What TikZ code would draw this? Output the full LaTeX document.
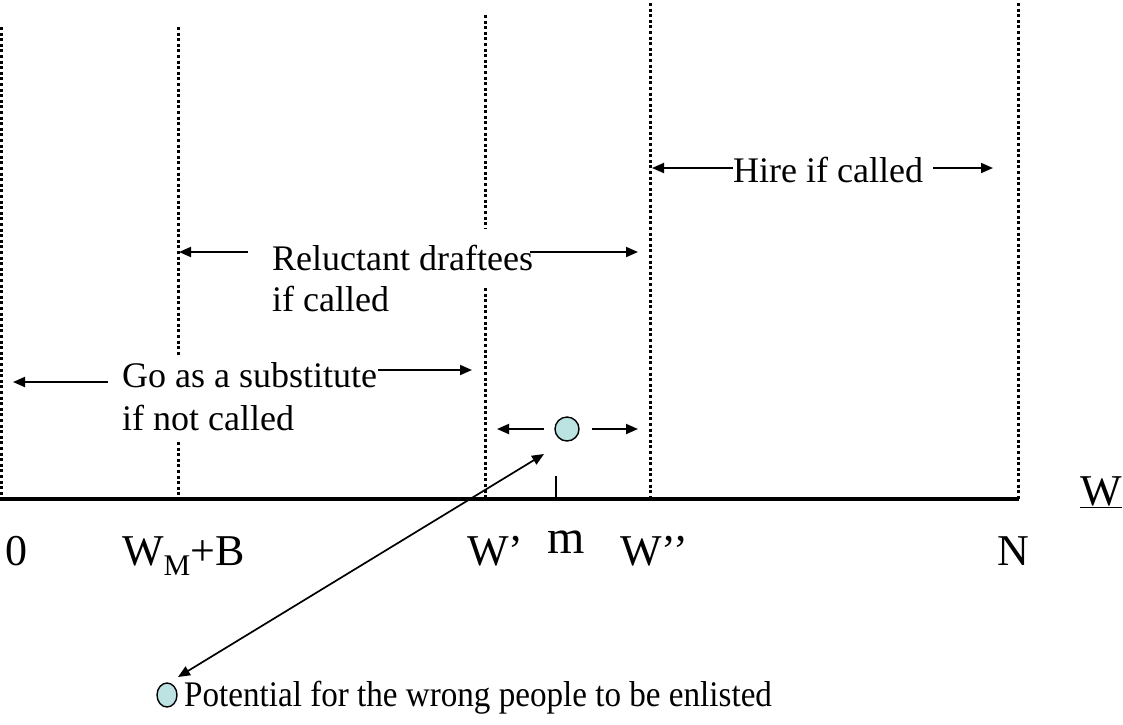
\documentclass[tikz,border=0pt]{standalone}
\usepackage{fontspec}
\setmainfont{Liberation Serif}
\usetikzlibrary{arrows.meta,shapes.geometric}
\definecolor{dotfill}{RGB}{188,226,226}
\begin{document}
\begin{tikzpicture}[x=1pt,y=-1pt,
  sepline/.style={line width=3pt, dash pattern=on 3pt off 2.6pt},
  axisline/.style={line width=4.6pt},
  arr/.style={line width=1.9pt, -{Triangle[length=12pt,width=10pt]}},
  dbl/.style={line width=1.7pt, {Triangle[length=12pt,width=10pt]}-{Triangle[length=12pt,width=10pt]}},
  txt/.style={inner sep=0pt, anchor=base west, font=\fontsize{36}{42}\selectfont},
  axlbl/.style={inner sep=0pt, anchor=base west, font=\fontsize{44}{50}\selectfont},
  person/.style={ellipse, draw, line width=1.4pt, fill=dotfill, inner sep=0pt},
]
\useasboundingbox (0,0) rectangle (1123,724);

% separator lines
\draw[sepline] (1.5,27) -- (1.5,499);
\draw[sepline] (178,27) -- (178,357);
\draw[sepline] (178,442) -- (178,499);
\draw[sepline] (485,15) -- (485,228);
\draw[sepline] (485,288) -- (485,499);
\draw[sepline] (650,3) -- (650,499);
\draw[sepline] (1018,3) -- (1018,499);

% axis
\coordinate (ax0) at (0,499);
\coordinate (ax1) at (1019,499);
\draw[axisline] (ax0) -- (ax1);
\coordinate (tk0) at (556,476);
\coordinate (tk1) at (556,499);
\draw[line width=1.4pt] (tk0) -- (tk1);

% axis labels
\node[axlbl] (l0) at (5,565) {0};
\node[axlbl] (lwmb) at (122,565) {W\raisebox{-10pt}{\fontsize{30}{30}\selectfont M}+B};
\node[axlbl] (lw1) at (467,565) {W’};
\node[inner sep=0pt, anchor=base west, font=\fontsize{48}{52}\selectfont] (lm) at (547,553) {m};
\node[axlbl] (lw2) at (620,565) {W’’};
\node[axlbl] (lN) at (997,565) {N};
\node[axlbl] (lW) at (1080,505) {\underline{W}};

% region texts
\node[txt] (hire) at (733,182) {Hire if called};
\node[txt] (rel1) at (272,270) {Reluctant draftees};
\node[txt] (rel2) at (272,311) {if called};
\node[txt] (go1) at (122,387) {Go as a substitute};
\node[txt] (go2) at (122,430) {if not called};

% region arrows
\coordinate (hA) at (733,168); \coordinate (hB) at (652,168);
\coordinate (hC) at (933,168); \coordinate (hD) at (993,168);
\draw[arr] (hA) -- (hB);
\draw[arr] (hC) -- (hD);
\coordinate (rA) at (248,252); \coordinate (rB) at (179,252);
\coordinate (rC) at (530,252); \coordinate (rD) at (638,252);
\draw[arr] (rA) -- (rB);
\draw[arr] (rC) -- (rD);
\coordinate (gA) at (108,382); \coordinate (gB) at (13,382);
\coordinate (gC) at (378,370); \coordinate (gD) at (472,370);
\draw[arr] (gA) -- (gB);
\draw[arr] (gC) -- (gD);

% the person near m
\node[person, minimum width=24pt, minimum height=24pt] (p) at (567,429) {};
\coordinate (pL) at (497,429); \coordinate (pR) at (638,429);
\draw[arr] ([xshift=-10pt]p.west) -- (pL);
\draw[arr] ([xshift=12pt]p.east) -- (pR);

% legend
\node[person, minimum width=20pt, minimum height=24pt] (leg) at (167,695) {};
\node[txt] (legtxt) at (184,706) {\scalebox{0.92}[1]{Potential for the wrong people to be enlisted}};
\coordinate (lkA) at (544,454);
\coordinate (lkB) at (178,677);
\draw[dbl] (lkA) -- (lkB);
\end{tikzpicture}
\end{document}
